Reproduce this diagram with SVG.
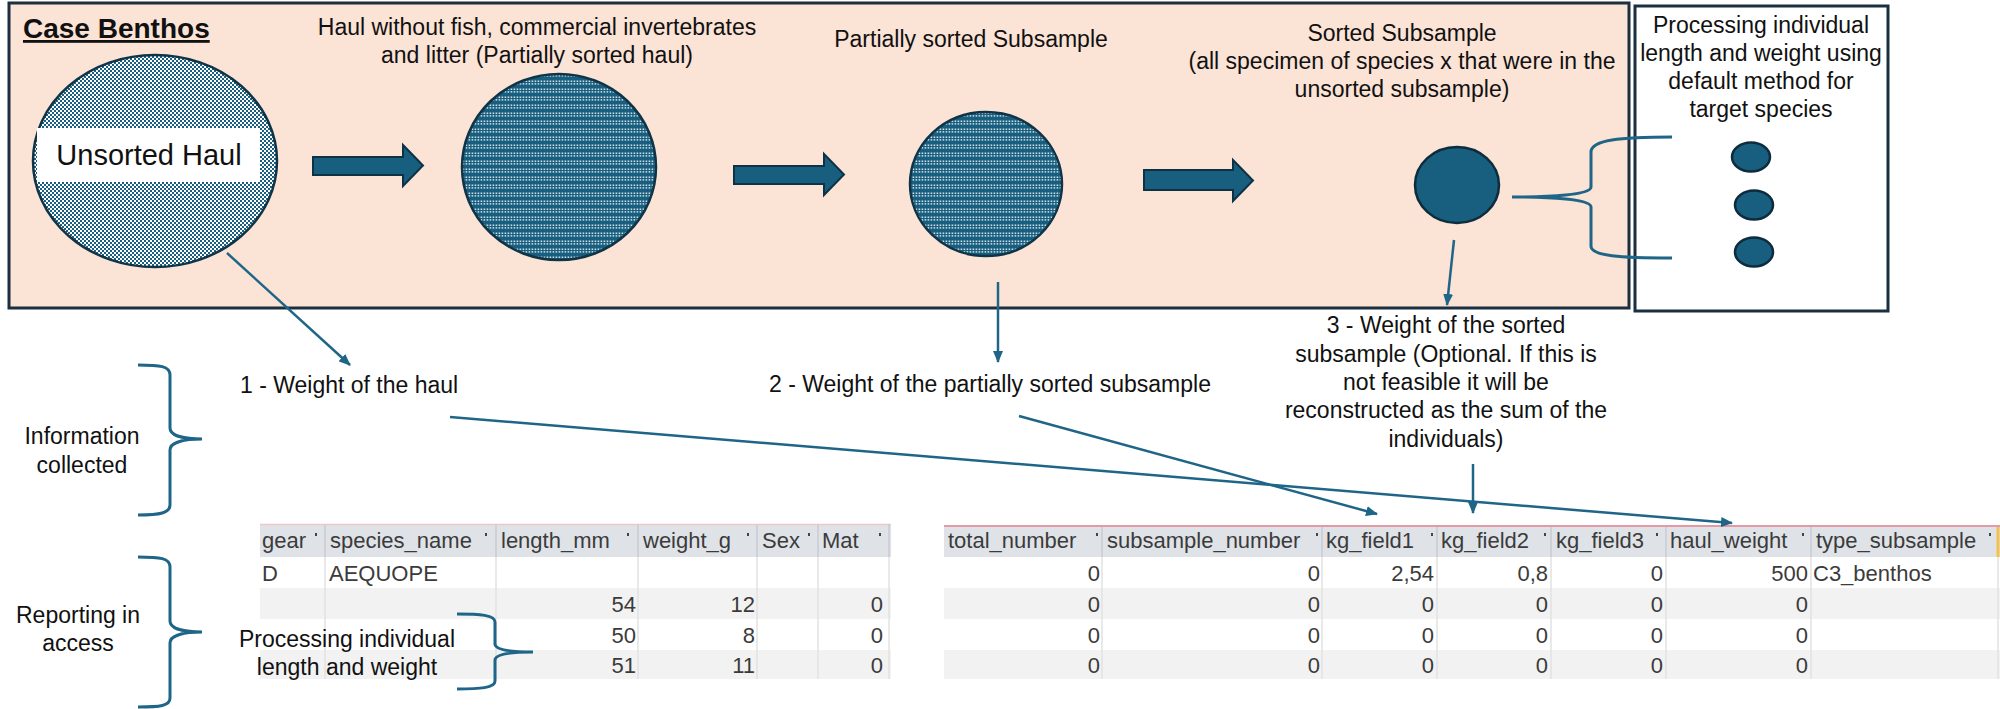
<svg xmlns="http://www.w3.org/2000/svg" width="2000" height="709" viewBox="0 0 2000 709">
<defs>
<style>
.t{font-family:"Liberation Sans",Arial,sans-serif;font-size:23px;fill:#111}
.c{text-anchor:middle}
.tb{font-family:"Liberation Sans",Arial,sans-serif;font-size:22px;fill:#3b3b3b}
.r{text-anchor:end}
.conn{stroke:#1f6587;stroke-width:2.5;fill:none}
.brace{stroke:#1f6587;stroke-width:3;fill:none}
.blk{fill:#175e7f;stroke:#0d3246;stroke-width:2}
.dot{fill:#175e7f;stroke:#0d2c3d;stroke-width:2.5}
.sepH{stroke:#c9cdd3;stroke-width:1.5}
.sepB{stroke:#e2e2e2;stroke-width:1.5}
.mk{fill:#444}
</style>
<pattern id="pUnsorted" width="4" height="4" patternUnits="userSpaceOnUse">
<rect width="4" height="4" fill="#ffffff"/>
<rect x="0" y="0" width="2" height="2" fill="#1a5f80"/>
<rect x="2" y="2" width="2" height="2" fill="#1a5f80"/>
</pattern>
<pattern id="pPartial" width="3" height="8" patternUnits="userSpaceOnUse">
<rect width="3" height="8" fill="#175e7f"/>
<rect x="0.6" y="0.6" width="1.6" height="1.2" fill="#ffffff"/>
<rect x="0.6" y="3.3" width="1.6" height="1.2" fill="#ffffff"/>
</pattern>
<marker id="ah" viewBox="0 0 12 10" refX="11" refY="5" markerWidth="12" markerHeight="10" markerUnits="userSpaceOnUse" orient="auto">
<path d="M0,0 L12,5 L0,10 Z" fill="#1f6587"/>
</marker>
</defs>
<rect width="2000" height="709" fill="#ffffff"/>

<g id="case-benthos-panel">
<rect x="9" y="3" width="1620" height="305" fill="#fbe3d6" stroke="#1b2f3f" stroke-width="3"/>
<text x="23" y="38" style="font-family:'Liberation Sans',Arial,sans-serif;font-size:28px;font-weight:bold;text-decoration:underline" fill="#111">Case Benthos</text>
</g>

<g id="node-unsorted-haul">
<ellipse cx="155" cy="161" rx="122" ry="106" fill="url(#pUnsorted)" stroke="#0f3447" stroke-width="2.5"/>
<rect x="37" y="128" width="223" height="54" fill="#ffffff"/>
<text class="t c" x="149" y="165" style="font-size:29px">Unsorted Haul</text>
</g>

<g id="node-partially-sorted-haul">
<text class="t c" x="537" y="35">Haul without fish, commercial invertebrates</text>
<text class="t c" x="537" y="63">and litter (Partially sorted haul)</text>
<ellipse cx="559" cy="167" rx="97" ry="93" fill="url(#pPartial)" stroke="#0f3447" stroke-width="2.5"/>
</g>

<g id="node-partially-sorted-subsample">
<text class="t c" x="971" y="47">Partially sorted Subsample</text>
<ellipse cx="986" cy="184" rx="76" ry="72" fill="url(#pPartial)" stroke="#0f3447" stroke-width="2.5"/>
</g>

<g id="node-sorted-subsample">
<text class="t c" x="1402" y="41">Sorted Subsample</text>
<text class="t c" x="1402" y="69">(all specimen of species x that were in the</text>
<text class="t c" x="1402" y="97">unsorted subsample)</text>
<ellipse class="dot" cx="1457" cy="185" rx="42" ry="38"/>
</g>

<g id="node-processing-default">
<rect x="1635" y="6" width="253" height="305" fill="#ffffff" stroke="#1b2f3f" stroke-width="3"/>
<text class="t c" x="1761" y="33">Processing individual</text>
<text class="t c" x="1761" y="61">length and weight using</text>
<text class="t c" x="1761" y="89">default method for</text>
<text class="t c" x="1761" y="117">target species</text>
<ellipse class="dot" cx="1751" cy="157" rx="19" ry="14.5"/>
<ellipse class="dot" cx="1754" cy="205" rx="19" ry="14.5"/>
<ellipse class="dot" cx="1754" cy="252" rx="19" ry="14.5"/>
</g>

<g id="flow-arrows">
<polygon class="blk" points="313,157 403,157 403,145 423,165.5 403,186 403,175 313,175"/>
<polygon class="blk" points="734,166 824,166 824,154 844,174.5 824,195 824,184 734,184"/>
<polygon class="blk" points="1144,170 1233,170 1233,160 1253,180.5 1233,201 1233,190 1144,190"/>
</g>

<g id="side-labels">
<text class="t c" x="82" y="444">Information</text>
<text class="t c" x="82" y="473">collected</text>
<text class="t c" x="78" y="623">Reporting in</text>
<text class="t c" x="78" y="651">access</text>
</g>

<g id="table-individuals">
<rect x="260" y="524" width="631" height="33" fill="#dfe3e8"/>
<line x1="260" y1="524.5" x2="891" y2="524.5" stroke="#f0c6cb" stroke-width="1.5"/>
<rect x="260" y="588" width="631" height="31" fill="#f2f2f2"/>
<rect x="260" y="650" width="631" height="29" fill="#f2f2f2"/>
<g class="sepH">
<line x1="325" y1="524" x2="325" y2="557"/><line x1="496" y1="524" x2="496" y2="557"/><line x1="638" y1="524" x2="638" y2="557"/><line x1="757" y1="524" x2="757" y2="557"/><line x1="818" y1="524" x2="818" y2="557"/><line x1="889" y1="524" x2="889" y2="557"/>
</g>
<g class="sepB">
<line x1="325" y1="557" x2="325" y2="679"/><line x1="496" y1="557" x2="496" y2="679"/><line x1="638" y1="557" x2="638" y2="679"/><line x1="757" y1="557" x2="757" y2="679"/><line x1="818" y1="557" x2="818" y2="679"/><line x1="889" y1="557" x2="889" y2="679"/>
</g>
<text class="tb" x="262" y="548">gear</text>
<text class="tb" x="330" y="548">species_name</text>
<text class="tb" x="501" y="548">length_mm</text>
<text class="tb" x="643" y="548">weight_g</text>
<text class="tb" x="762" y="548">Sex</text>
<text class="tb" x="822" y="548">Mat</text>
<rect class="mk" x="315" y="533" width="2" height="3"/>
<rect class="mk" x="485" y="533" width="2" height="3"/>
<rect class="mk" x="627" y="533" width="2" height="3"/>
<rect class="mk" x="747" y="533" width="2" height="3"/>
<rect class="mk" x="808" y="533" width="2" height="3"/>
<rect class="mk" x="879" y="533" width="2" height="3"/>
<text class="tb" x="262" y="581">D</text>
<text class="tb" x="329" y="581">AEQUOPE</text>
<text class="tb r" x="636" y="612">54</text><text class="tb r" x="755" y="612">12</text><text class="tb r" x="883" y="612">0</text>
<text class="tb r" x="636" y="643">50</text><text class="tb r" x="755" y="643">8</text><text class="tb r" x="883" y="643">0</text>
<text class="tb r" x="636" y="673">51</text><text class="tb r" x="755" y="673">11</text><text class="tb r" x="883" y="673">0</text>
</g>

<g id="table-subsample">
<rect x="944" y="526" width="1056" height="31" fill="#dfe3e8"/>
<line x1="944" y1="526" x2="2000" y2="526" stroke="#e39aa6" stroke-width="2"/>
<rect x="944" y="588" width="1056" height="31" fill="#f2f2f2"/>
<rect x="944" y="650" width="1056" height="29" fill="#f2f2f2"/>
<g class="sepH">
<line x1="1102" y1="527" x2="1102" y2="557"/><line x1="1322" y1="527" x2="1322" y2="557"/><line x1="1437" y1="527" x2="1437" y2="557"/><line x1="1551" y1="527" x2="1551" y2="557"/><line x1="1666" y1="527" x2="1666" y2="557"/><line x1="1811" y1="527" x2="1811" y2="557"/>
</g>
<line x1="1998" y1="527" x2="1998" y2="557" stroke="#f2c14e" stroke-width="3"/>
<g class="sepB">
<line x1="1102" y1="557" x2="1102" y2="679"/><line x1="1322" y1="557" x2="1322" y2="679"/><line x1="1437" y1="557" x2="1437" y2="679"/><line x1="1551" y1="557" x2="1551" y2="679"/><line x1="1666" y1="557" x2="1666" y2="679"/><line x1="1811" y1="557" x2="1811" y2="679"/><line x1="1998" y1="557" x2="1998" y2="679"/>
</g>
<text class="tb" x="948" y="548">total_number</text>
<text class="tb" x="1107" y="548">subsample_number</text>
<text class="tb" x="1326" y="548">kg_field1</text>
<text class="tb" x="1441" y="548">kg_field2</text>
<text class="tb" x="1556" y="548">kg_field3</text>
<text class="tb" x="1670" y="548">haul_weight</text>
<text class="tb" x="1816" y="548">type_subsample</text>
<rect class="mk" x="1096" y="533" width="2" height="3"/>
<rect class="mk" x="1316" y="533" width="2" height="3"/>
<rect class="mk" x="1431" y="533" width="2" height="3"/>
<rect class="mk" x="1544" y="533" width="2" height="3"/>
<rect class="mk" x="1656" y="533" width="2" height="3"/>
<rect class="mk" x="1802" y="533" width="2" height="3"/>
<rect class="mk" x="1989" y="533" width="2" height="3"/>
<text class="tb r" x="1100" y="581">0</text><text class="tb r" x="1320" y="581">0</text><text class="tb r" x="1434" y="581">2,54</text><text class="tb r" x="1548" y="581">0,8</text><text class="tb r" x="1663" y="581">0</text><text class="tb r" x="1808" y="581">500</text><text class="tb" x="1813" y="581">C3_benthos</text>
<text class="tb r" x="1100" y="612">0</text><text class="tb r" x="1320" y="612">0</text><text class="tb r" x="1434" y="612">0</text><text class="tb r" x="1548" y="612">0</text><text class="tb r" x="1663" y="612">0</text><text class="tb r" x="1808" y="612">0</text>
<text class="tb r" x="1100" y="643">0</text><text class="tb r" x="1320" y="643">0</text><text class="tb r" x="1434" y="643">0</text><text class="tb r" x="1548" y="643">0</text><text class="tb r" x="1663" y="643">0</text><text class="tb r" x="1808" y="643">0</text>
<text class="tb r" x="1100" y="673">0</text><text class="tb r" x="1320" y="673">0</text><text class="tb r" x="1434" y="673">0</text><text class="tb r" x="1548" y="673">0</text><text class="tb r" x="1663" y="673">0</text><text class="tb r" x="1808" y="673">0</text>
</g>

<g id="braces">
<path class="brace" d="M1672,137 C1620,137 1591,140 1591,152 L1591,187 C1591,195 1550,197 1512,197 C1550,197 1591,199 1591,207 L1591,246 C1591,256 1620,258 1672,258"/>
<path class="brace" d="M138,365 C160,365 170,366 170,375 L170,428 C170,436 185,439 202,439 C185,439 170,442 170,450 L170,505 C170,513 160,515 138,515"/>
<path class="brace" d="M138,557 C160,557 170,558 170,567 L170,621 C170,629 185,632 202,632 C185,632 170,635 170,643 L170,698 C170,706 160,707 138,707"/>
<path class="brace" d="M457,614 C480,614 495,615 495,622 L495,644 C495,650 510,652 533,652 C510,652 495,654 495,660 L495,681 C495,688 480,689 457,689"/>
</g>

<g id="weight-labels">
<text class="t" x="240" y="393">1 - Weight of the haul</text>
<text class="t c" x="990" y="392">2 - Weight of the partially sorted subsample</text>
<text class="t c" x="1446" y="333">3 - Weight of the sorted</text>
<text class="t c" x="1446" y="362">subsample (Optional. If this is</text>
<text class="t c" x="1446" y="390">not feasible it will be</text>
<text class="t c" x="1446" y="418">reconstructed as the sum of the</text>
<text class="t c" x="1446" y="447">individuals)</text>
<text class="t c" x="347" y="647">Processing individual</text>
<text class="t c" x="347" y="675">length and weight</text>
</g>

<g id="connectors">
<line class="conn" x1="227" y1="253" x2="350" y2="365" marker-end="url(#ah)"/>
<line class="conn" x1="998" y1="282" x2="998" y2="362" marker-end="url(#ah)"/>
<line class="conn" x1="1454" y1="240" x2="1447" y2="305" marker-end="url(#ah)"/>
<line class="conn" x1="1019" y1="416" x2="1377" y2="514" marker-end="url(#ah)"/>
<line class="conn" x1="1473" y1="464" x2="1473" y2="513" marker-end="url(#ah)"/>
<line class="conn" x1="450" y1="417" x2="1732" y2="523" marker-end="url(#ah)"/>
</g>
</svg>
